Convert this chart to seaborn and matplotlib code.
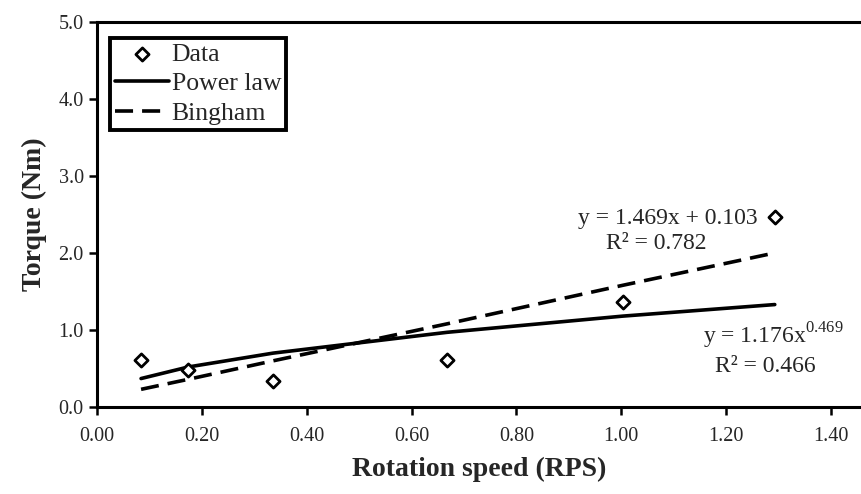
import pandas as pd
import seaborn as sns
import matplotlib.pyplot as plt

# rotation speed (RPS) and measured torque (Nm)
speed = [0.084, 0.174, 0.336, 0.668, 1.003, 1.293]
torque = [0.61, 0.48, 0.34, 0.61, 1.36, 2.47]

# fitted curves read at the same speeds
power_fit = [0.37, 0.52, 0.70, 0.97, 1.18, 1.33]
bingham_fit = [0.23, 0.36, 0.60, 1.08, 1.58, 2.00]

x_ticks = [0.0, 0.2, 0.4, 0.6, 0.8, 1.0, 1.2, 1.4]
y_ticks = [0.0, 1.0, 2.0, 3.0, 4.0, 5.0]

df = pd.DataFrame({'speed': speed, 'torque': torque,
                   'power': power_fit, 'bingham': bingham_fit})

sns.set_style('white')
plt.rcParams['font.family'] = ['Liberation Serif', 'DejaVu Serif']
plt.rcParams['mathtext.fontset'] = 'custom'
plt.rcParams['mathtext.rm'] = 'Liberation Serif'

fig = plt.figure(figsize=(8.61, 4.94), dpi=100)
ax = fig.add_axes([0.1127, 0.176, 0.887, 0.78])

dash = (0, (5, 2.5))
sns.lineplot(data=df, x='speed', y='power', ax=ax, color='black',
             linewidth=2.6, label='Power law')
sns.lineplot(data=df, x='speed', y='bingham', ax=ax, color='black',
             linewidth=2.6, linestyle=dash, label='Bingham')
sns.scatterplot(data=df, x='speed', y='torque', ax=ax, marker='D', s=45,
                facecolor='white', edgecolor='black', linewidth=2.0,
                label='Data', zorder=5)

ax.set_xlim(0, 1.457)
ax.set_ylim(0, 5.0)
ax.set_xticks(x_ticks)
ax.set_xticklabels([f'{v:.2f}' for v in x_ticks])
ax.set_yticks(y_ticks)
ax.set_yticklabels([f'{v:.1f}' for v in y_ticks])
ax.tick_params(axis='both', direction='out', length=6, width=1.8,
               labelsize=14.5, color='black', bottom=True, left=True)
ax.tick_params(axis='x', pad=8)

for side in ['left', 'bottom', 'top']:
    ax.spines[side].set_linewidth(2.2)
    ax.spines[side].set_color('black')
ax.spines['right'].set_visible(False)

ax.set_xlabel('Rotation speed (RPS)', fontsize=20, fontweight='bold', labelpad=8)
ax.set_ylabel('Torque (Nm)', fontsize=20, fontweight='bold', labelpad=8)

ax.text(1.089, 2.45, 'y = 1.469x + 0.103', fontsize=17, ha='center', va='center')
ax.text(1.066, 2.12, 'R² = 0.782', fontsize=17, ha='center', va='center')
ax.text(1.29, 0.92, r'y = 1.176x$^{\mathrm{0.469}}$', fontsize=17, ha='center', va='center')
ax.text(1.274, 0.53, 'R² = 0.466', fontsize=17, ha='center', va='center')

handles, labels = ax.get_legend_handles_labels()
order = [labels.index('Data'), labels.index('Power law'), labels.index('Bingham')]
leg = ax.legend([handles[i] for i in order], [labels[i] for i in order],
                loc='upper left', bbox_to_anchor=(0.017, 0.958), fontsize=18.5,
                frameon=True, fancybox=False, framealpha=1, handlelength=2.1,
                handletextpad=0.1, borderpad=0.2, borderaxespad=0,
                labelspacing=0.25)
leg.get_frame().set_edgecolor('black')
leg.get_frame().set_linewidth(2.8)

fig.savefig('out.png', dpi=100)
